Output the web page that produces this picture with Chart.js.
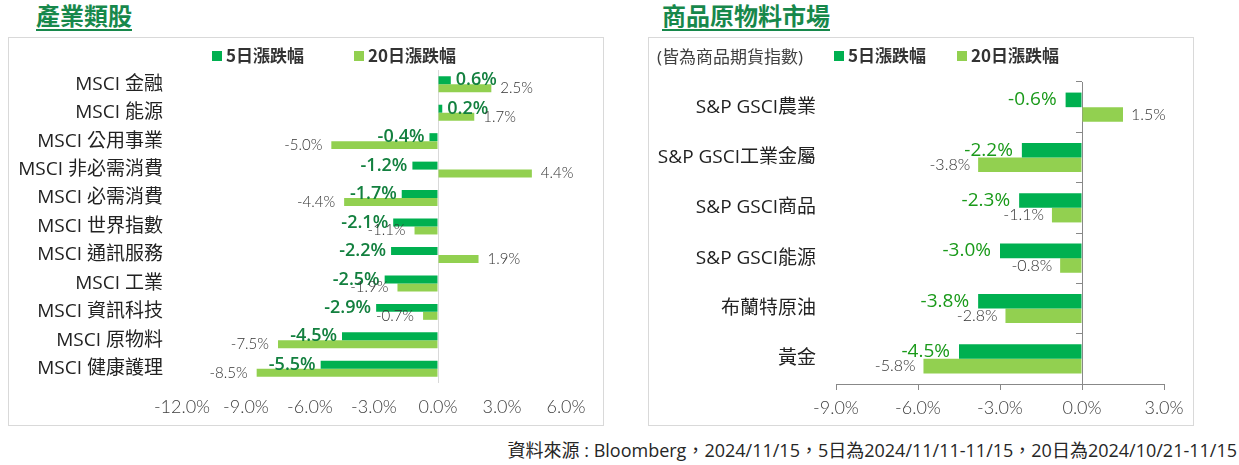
<!DOCTYPE html>
<html lang="zh-Hant">
<head>
<meta charset="UTF-8">
<title>產業類股 / 商品原物料市場</title>
<script src="https://cdn.jsdelivr.net/npm/chart.js"></script>
<style>
  body { margin: 0; background: #fff; font-family: "Open Sans", "Noto Sans CJK TC", sans-serif; }
  #page { position: relative; width: 1239px; height: 465px; overflow: hidden; }
  .title { position: absolute; top: 1px; font-family: "Noto Sans CJK TC", sans-serif; font-size: 24px; font-weight: bold;
           color: #17884b; line-height: 28px; border-bottom: 2px solid #17884b; }
  .box { position: absolute; top: 37px; height: 389px; border: 1px solid #d9d9d9; box-sizing: border-box; }
  .wrap { position: absolute; top: 37px; height: 388px; }
  .leg { position: absolute; top: 44px; font-family: "Noto Sans CJK TC", sans-serif; font-size: 17px; font-weight: bold;
         color: #333; line-height: 22px; white-space: nowrap; }
  .leg i { display: inline-block; width: 10px; height: 10px; margin-right: 4px; vertical-align: 1px; }
  .note { position: absolute; top: 46px; left: 657px; font-size: 17px; color: #404040; line-height: 22px; white-space: nowrap; }
  #src { position: absolute; right: 2px; top: 436px; font-size: 18px; color: #262626; white-space: nowrap; }
</style>
</head>
<body>
<div id="page">
  <div class="title" style="left:36px;">產業類股</div>
  <div class="title" style="left:662px;">商品原物料市場</div>

  <div class="box" style="left:8px; width:596px;"></div>
  <div class="box" style="left:648px; width:546px;"></div>

  <div class="wrap" style="left:8px; width:596px;"><canvas id="sectorChart"></canvas></div>
  <div class="wrap" style="left:648px; width:545px;"><canvas id="commodityChart"></canvas></div>

  <div class="leg" style="left:212px;"><i style="background:#00b050"></i>5日漲跌幅</div>
  <div class="leg" style="left:354px;"><i style="background:#92d050"></i>20日漲跌幅</div>
  <div class="note">(皆為商品期貨指數)</div>
  <div class="leg" style="left:834px;"><i style="background:#00b050"></i>5日漲跌幅</div>
  <div class="leg" style="left:957px;"><i style="background:#92d050"></i>20日漲跌幅</div>

  <div id="src">資料來源 : Bloomberg，2024/11/15，5日為2024/11/11-11/15，20日為2024/10/21-11/15</div>
</div>

<script>
// 產業類股
const sectorLabels = ['MSCI 金融', 'MSCI 能源', 'MSCI 公用事業', 'MSCI 非必需消費', 'MSCI 必需消費',
  'MSCI 世界指數', 'MSCI 通訊服務', 'MSCI 工業', 'MSCI 資訊科技', 'MSCI 原物料', 'MSCI 健康護理'];
const sector5d  = [0.6, 0.2, -0.4, -1.2, -1.7, -2.1, -2.2, -2.5, -2.9, -4.5, -5.5];
const sector20d = [2.5, 1.7, -5.0, 4.4, -4.4, -1.1, 1.9, -1.9, -0.7, -7.5, -8.5];

// 商品原物料市場
const commodityLabels = ['S&P GSCI農業', 'S&P GSCI工業金屬', 'S&P GSCI商品', 'S&P GSCI能源', '布蘭特原油', '黃金'];
const commodity5d  = [-0.6, -2.2, -2.3, -3.0, -3.8, -4.5];
const commodity20d = [1.5, -3.8, -1.1, -0.8, -2.8, -5.8];

const DARK = '#00b050', LIGHT = '#92d050';
const pct = v => v.toFixed(1) + '%';

// value labels at bar ends
const barLabels = {
  id: 'barLabels',
  afterDatasetsDraw(chart, args, opts) {
    const ctx = chart.ctx;
    chart.data.datasets.forEach((ds, di) => {
      const st = opts.styles[di];
      ctx.save();
      ctx.font = st.font;
      ctx.fillStyle = st.color;
      ctx.textBaseline = 'middle';
      chart.getDatasetMeta(di).data.forEach((bar, i) => {
        const v = ds.data[i];
        ctx.textAlign = v < 0 ? 'right' : 'left';
        ctx.fillText(pct(v), bar.x + (v < 0 ? -st.gap : st.gap), bar.y + (st.dy || 0));
      });
      ctx.restore();
    });
  }
};

const tickFont = { family: 'Lato', size: 18, weight: 300 };
const catFont = { family: '"Open Sans", "Noto Sans CJK TC"', size: 19 };

new Chart(document.getElementById('sectorChart'), {
  type: 'bar',
  data: {
    labels: sectorLabels,
    datasets: [
      { label: '5日漲跌幅', data: sector5d, backgroundColor: DARK },
      { label: '20日漲跌幅', data: sector20d, backgroundColor: LIGHT }
    ]
  },
  options: {
    indexAxis: 'y',
    responsive: true,
    maintainAspectRatio: false,
    animation: false,
    categoryPercentage: 0.56,
    barPercentage: 1,
    layout: { padding: { top: 33, right: 38, left: 0, bottom: 0 } },
    plugins: {
      legend: { display: false },
      tooltip: { enabled: false },
      barLabels: {
        styles: [
          { font: '600 18px "Open Sans"', color: '#13803f', gap: 5 },
          { font: '300 15px Lato', color: '#333', gap: 9 }
        ]
      }
    },
    scales: {
      x: {
        min: -12, max: 6,
        ticks: { stepSize: 3, callback: pct, font: tickFont, color: '#404040', padding: 13 },
        grid: { drawTicks: false, color: c => c.tick && c.tick.value === 0 ? '#d9d9d9' : 'transparent' },
        border: { display: false },
        afterFit: s => { s.height = 42; }
      },
      y: {
        ticks: { font: catFont, color: '#222', padding: 11 },
        grid: { display: false },
        border: { display: false },
        afterFit: s => { s.width = 174; }
      }
    }
  },
  plugins: [barLabels]
});

new Chart(document.getElementById('commodityChart'), {
  type: 'bar',
  data: {
    labels: commodityLabels,
    datasets: [
      { label: '5日漲跌幅', data: commodity5d, backgroundColor: DARK },
      { label: '20日漲跌幅', data: commodity20d, backgroundColor: LIGHT }
    ]
  },
  options: {
    indexAxis: 'y',
    responsive: true,
    maintainAspectRatio: false,
    animation: false,
    categoryPercentage: 0.58,
    barPercentage: 1,
    layout: { padding: { top: 45, right: 29, left: 0, bottom: 0 } },
    plugins: {
      legend: { display: false },
      tooltip: { enabled: false },
      barLabels: {
        styles: [
          { font: '19px "Open Sans"', color: '#1a9a1a', gap: 9 },
          { font: '300 16px Lato', color: '#333', gap: 8 }
        ]
      }
    },
    scales: {
      x: {
        min: -9, max: 3,
        ticks: { stepSize: 3, callback: pct, font: tickFont, color: '#404040', padding: 7 },
        grid: { drawOnChartArea: false, tickLength: 6, color: '#888' },
        border: { color: '#888' },
        afterFit: s => { s.height = 41; }
      },
      y: {
        ticks: { font: catFont, color: '#222', padding: 12 },
        grid: { display: false },
        border: { display: false },
        afterFit: s => { s.width = 188; }
      },
      y2: {
        type: 'category',
        position: { x: 0 },
        ticks: { display: false },
        grid: { offset: true, drawOnChartArea: false, tickLength: 6, color: '#888' },
        border: { color: '#888' }
      }
    }
  },
  plugins: [barLabels]
});
</script>
</body>
</html>
